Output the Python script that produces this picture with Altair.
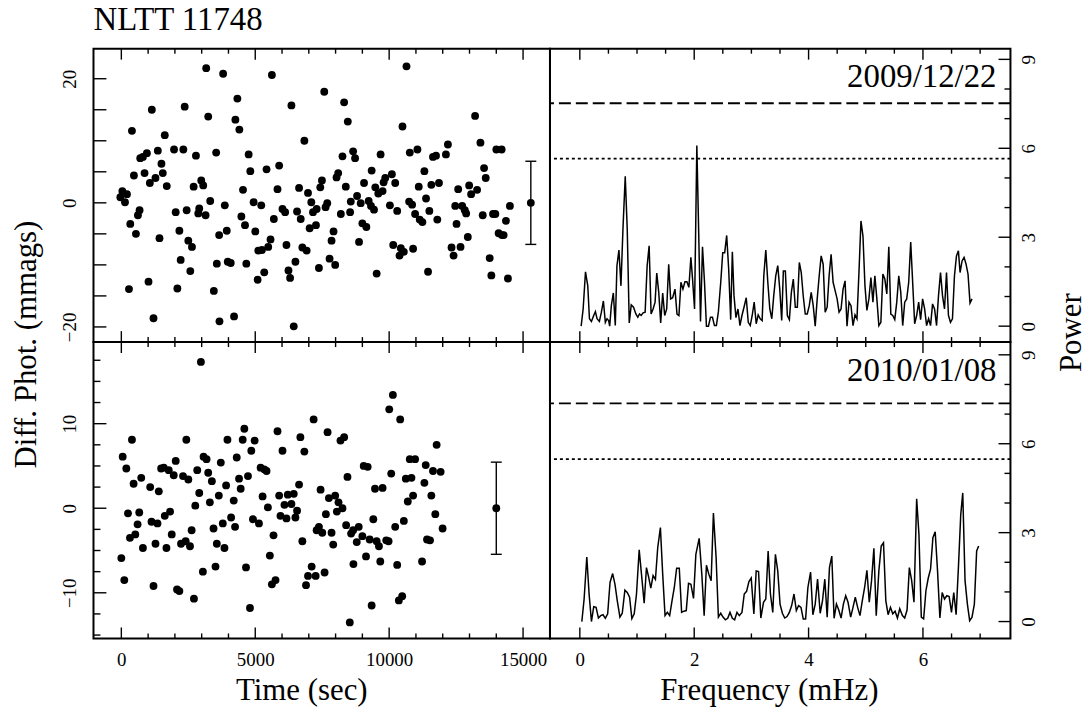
import altair as alt
import pandas as pd

FONT = "Liberation Serif"

title_text = "NLTT 11748"
date_top = "2009/12/22"
date_bot = "2010/01/08"

# ---- light curve, 2009/12/22 ----
t1 = [3169, 3801, 5621, 10647, 7577, 4333, 8319, 6351, 2365, 1139,
      3244, 4259, 4407, 8456, 10498, 13209, 396, 1622, 6834, 12194,
      13408, 1362, 1968, 2315, 2786, 3541, 4754, 8654, 8728, 8257,
      9681, 10771, 11055, 11637, 11749, 12120, 14002, 14200, 953, 706,
      805, 470, 867, 1498, 1548, 1275, 1065, 1696, 4816, 5422,
      5893, 9347, 8097, 8035, 11315, 13544, 13606, 10102, 9854, 9793,
      10226, 7490, 7428, 2984, 3058, 2699, 4543, 5831, 6636, 8381,
      9062, 9483, 9595, 9755, 11105, 11575, 11860, 12578, 12987, 13061,
      13284, 37, 210, -37, 136, 6970, 8802, 8567, 8938, 9235,
      11377, 3318, 4940, 7094, 7688, 10746, 10857, 10028, 3863, 5224,
      7626, 7292, 7156, 9322, 9434, 12467, 12727, 12826, 12875, 14509,
      681, 619, 2030, 2439, 2909, 2872, 3145, 6017, 6116, 6561,
      8542, 8196, 10300, 10969, 11142, 11241, 11501, 11798, 13494, 13878,
      13965, 14361, 4482, 4618, 5695, 6698, 334, 545, 2167, 1424,
      2501, 2637, 3652, 3937, 5002, 7032, 7267, 7923, 7849, 9000,
      9149, 8876, 12516, 12937, 14088, 14212, 14274, 5571, 5484, 5249,
      5113, 6165, 6759, 6920, 10152, 10436, 10548, 10387, 10894, 12330,
      12405, 12665, 13754, 2216, 2575, 3565, 3974, 4085, 4667, 5336,
      5088, 6240, 6301, 6500, 7378, 7775, 7985, 9533, 11452, 13816,
      14435, 285, 1015, 2092, 3454, 1201, 3664, 4209, 6438]
m1 = [21.7, 20.8, 20.6, 22.0, 17.9, 16.8, 16.2, 15.7, 15.5, 15.0,
      13.9, 13.4, 11.8, 13.1, 12.3, 14.0, 11.6, 10.9, 10.0, 9.4,
      9.7, 8.4, 8.6, 8.6, 7.6, 8.1, 7.8, 8.3, 7.2, 7.5,
      7.8, 8.1, 8.6, 7.4, 7.6, 7.8, 8.6, 8.6, 8.0, 7.2,
      7.4, 4.4, 4.8, 6.3, 4.8, 4.0, 3.2, 2.7, 5.1, 5.4,
      6.0, 5.2, 4.8, 4.1, 5.1, 5.6, 4.0, 4.6, 4.0, 3.3,
      3.2, 3.6, 2.5, 3.6, 2.8, 2.6, 2.1, 2.2, 2.4, 2.6,
      3.2, 2.5, 1.5, 1.9, 2.6, 2.9, 3.2, 2.2, 2.8, 1.4,
      2.1, 1.9, 1.4, 0.9, 0.1, 1.6, 1.1, 0.2, -0.05, 0.3,
      0.7, 0.3, 0.1, 0.1, -0.05, 0.2, -0.3, -0.4, -0.4, -0.4,
      -0.7, -1.0, -1.5, -0.5, -1.1, -0.5, -0.5, -1.2, -1.7, -0.5,
      -1.2, -2.0, -1.5, -1.2, -0.9, -1.7, -2.0, -1.0, -1.5, -1.4,
      -1.5, -1.8, -1.3, -1.8, -2.7, -3.1, -1.3, -2.7, -2.0, -1.8,
      -1.8, -2.9, -2.2, -3.6, -2.6, -2.6, -3.4, -5.0, -4.5, -5.7,
      -6.1, -7.1, -5.2, -4.5, -4.6, -4.1, -3.6, -4.6, -6.1, -3.3,
      -3.9, -6.3, -3.4, -5.5, -4.9, -5.2, -5.2, -5.9, -7.1, -7.6,
      -7.7, -6.8, -7.2, -7.7, -6.8, -7.3, -7.9, -8.5, -7.4, -7.2,
      -8.5, -7.1, -8.9, -9.2, -11.0, -9.8, -9.5, -9.7, -9.8, -11.2,
      -12.4, -10.9, -12.1, -9.5, -10.5, -9.0, -10.0, -11.4, -11.1, -11.7,
      -12.2, -13.9, -12.7, -13.8, -14.2, -18.6, -19.1, -18.3, -19.9]

# ---- light curve, 2010/01/08 ----
t2 = [2971, 10139, 10003, 10412, 7180, 4593, 5831, 7700, 8319, 8183,
      6685, 396, 2426, 3962, 4531, 4977, 11773, 4853, 6017, 6834,
      50, 186, 2030, 3070, 3182, 3714, 4308, 10771, 10969, 1486,
      1585, 1770, 1956, 2303, 2501, 2835, 3244, 3380, 4395, 4729,
      5200, 5336, 5422, 9050, 9198, 11365, 11637, 11922, 743, 458,
      1077, 1399, 3912, 4457, 6636, 7440, 8443, 9471, 9755, 10077,
      10622, 10833, 11315, 2909, 3640, 3305, 4197, 5274, 5893, 6215,
      6438, 6091, 6351, 6561, 5472, 7750, 7985, 8109, 8257, 8047,
      10696, 10894, 11575, 2761, 248, 669, 607, 322, 520, 805,
      1127, 1349, 1275, 1622, 1820, 1882, 1684, 2228, 2402, 2563,
      2625, 3442, 3565, 3788, 3850, 4098, 4246, 4915, 5138, 5942,
      6165, 6500, 5682, 6759, 7378, 7292, 7502, 7638, 7849, 7911,
      8394, 8579, 8654, 8864, 8790, 9000, 9273, 9409, 9533, 9619,
      9892, 9978, 10226, 10548, 11724, 11996, 11414, 11526, 5546, 4655,
      3516, 3045, 0, 111, 1201, 2080, 2167, 2711, 4803, 5621,
      5757, 6970, 7106, 6896, 7255, 7589, 8666, 9136, 9669, 10300,
      11229, 10486, 10362, 9347, 8530]
m2 = [17.3, 13.4, 11.7, 10.5, 10.5, 9.4, 9.1, 9.0, 8.4, 8.0,
      8.4, 8.1, 8.1, 8.1, 8.1, 8.0, 7.5, 6.8, 6.8, 6.7,
      6.1, 4.7, 5.6, 6.1, 5.8, 5.4, 6.0, 5.8, 5.8, 4.7,
      4.8, 4.5, 3.9, 3.8, 3.4, 4.5, 4.2, 3.2, 3.5, 3.8,
      4.8, 4.6, 4.4, 5.0, 4.9, 5.1, 4.4, 4.3, 3.6, 2.9,
      2.5, 2.0, 2.7, 2.3, 2.8, 2.2, 3.7, 2.3, 2.4, 4.1,
      3.5, 3.6, 3.0, 1.8, 1.5, 0.7, 0.9, 1.4, 1.5, 1.6,
      1.7, 0.4, 0.5, -0.3, 0.1, 1.2, 1.5, 0.7, 0.0, -0.4,
      0.8, 1.5, 1.5, 0.3, -0.6, -0.5, -1.9, -3.5, -3.1, -4.7,
      -1.6, -1.8, -4.2, -0.9, -0.4, -3.1, -4.7, -4.2, -3.9, -4.5,
      -2.6, -2.4, -4.2, -1.8, -4.7, -1.1, -2.2, -1.3, -1.8, -0.9,
      -1.2, -1.1, -3.2, -3.9, -2.2, -2.6, -2.9, -0.7, -2.9, -4.3,
      -2.0, -3.0, -2.6, -2.2, -4.0, -3.3, -3.7, -1.3, -3.9, -4.5,
      -3.8, -3.9, -2.2, -1.5, -0.7, -2.4, -3.7, -3.8, -5.6, -7.0,
      -6.9, -7.5, -5.9, -8.5, -9.2, -9.6, -9.8, -10.7, -11.8, -9.0,
      -8.5, -8.0, -6.9, -9.1, -8.0, -7.6, -6.6, -5.7, -6.3, -6.7,
      -6.3, -10.4, -10.9, -11.5, -13.5]

# typical error bars
err_time = [15290, 14000]
err_half = [6.7, 5.45]

# ---- periodograms ----
f1 = [0.023, 0.058, 0.099, 0.139, 0.168, 0.203, 0.243, 0.272, 0.301, 0.342,
      0.377, 0.412, 0.446, 0.475, 0.504, 0.522, 0.551, 0.586, 0.620, 0.649,
      0.684, 0.719, 0.754, 0.794, 0.829, 0.864, 0.899, 0.939, 0.980, 1.014,
      1.043, 1.072, 1.107, 1.142, 1.177, 1.212, 1.246, 1.281, 1.316, 1.345,
      1.380, 1.414, 1.449, 1.484, 1.519, 1.554, 1.588, 1.623, 1.664, 1.699,
      1.733, 1.768, 1.803, 1.838, 1.872, 1.907, 1.942, 1.971, 2.006, 2.046,
      2.081, 2.110, 2.145, 2.180, 2.214, 2.249, 2.284, 2.319, 2.354, 2.388,
      2.423, 2.464, 2.499, 2.533, 2.568, 2.603, 2.638, 2.667, 2.696, 2.730,
      2.765, 2.800, 2.835, 2.875, 2.910, 2.945, 2.980, 3.014, 3.049, 3.084,
      3.119, 3.154, 3.188, 3.217, 3.252, 3.287, 3.322, 3.357, 3.391, 3.426,
      3.461, 3.496, 3.530, 3.559, 3.594, 3.629, 3.664, 3.699, 3.733, 3.768,
      3.803, 3.838, 3.872, 3.907, 3.942, 3.977, 4.012, 4.046, 4.081, 4.116,
      4.151, 4.186, 4.220, 4.255, 4.290, 4.325, 4.359, 4.394, 4.429, 4.464,
      4.499, 4.533, 4.568, 4.603, 4.638, 4.672, 4.707, 4.742, 4.777, 4.812,
      4.846, 4.881, 4.916, 4.951, 4.986, 5.020, 5.055, 5.090, 5.125, 5.159,
      5.194, 5.229, 5.264, 5.299, 5.333, 5.368, 5.403, 5.438, 5.472, 5.507,
      5.542, 5.577, 5.612, 5.646, 5.681, 5.716, 5.751, 5.786, 5.820, 5.855,
      5.890, 5.925, 5.959, 5.994, 6.029, 6.064, 6.099, 6.133, 6.168, 6.203,
      6.238, 6.272, 6.307, 6.342, 6.377, 6.412, 6.446, 6.481, 6.516, 6.551,
      6.586, 6.620, 6.649, 6.684, 6.719, 6.754, 6.788, 6.823, 6.858]
p1 = [0.0, 0.58, 1.83, 1.36, 0.25, 0.16, 0.36, 0.49, 0.25, 0.16,
      0.47, 0.85, 0.13, 0.25, 0.19, 0.0, 0.69, 1.12, 0.02, 2.04,
      2.57, 1.36, 3.27, 5.06, 3.27, 0.11, 0.72, 0.64, 0.41, 0.30,
      0.41, 0.36, 0.45, 0.47, 2.04, 2.71, 0.41, 0.58, 0.81, 1.79,
      1.14, 0.11, 1.12, 0.36, 0.58, 2.09, 0.92, 0.96, 1.25, 0.41,
      0.36, 1.48, 1.25, 1.50, 1.50, 1.31, 2.32, 1.59, 0.58, 6.09,
      2.93, 0.16, 2.68, 1.48, 0.0, 0.0, 0.30, 0.30, 0.02, 0.02,
      0.49, 1.48, 2.48, 2.48, 3.06, 1.92, 0.22, 2.51, 1.03, 0.29,
      0.58, 0.02, 0.36, 0.67, 0.96, 0.13, 0.02, 0.36, 0.81, 0.08,
      0.38, 0.25, 0.19, 1.70, 2.57, 1.48, 0.58, 0.25, 1.03, 1.70,
      2.04, 1.25, 0.19, 1.86, 1.86, 0.36, 0.22, 1.14, 1.59, 0.64,
      0.64, 2.15, 1.81, 1.01, 0.41, 0.41, 0.69, 1.14, 0.69, 0.0,
      0.92, 1.70, 2.37, 2.09, 0.47, 0.64, 1.70, 2.42, 1.48, 1.20,
      0.92, 0.47, 0.58, 1.25, 1.53, 0.0, 0.81, 0.69, 0.02, 0.38,
      0.25, 1.81, 3.55, 3.04, 1.36, 0.53, 0.92, 1.64, 0.81, 1.70,
      0.92, 0.02, 0.13, 1.76, 1.59, 1.09, 2.68, 0.41, 0.36, 0.22,
      0.81, 1.70, 1.14, 0.02, 0.81, 0.92, 1.48, 2.84, 1.48, 0.08,
      0.36, 0.81, 0.22, 0.92, 0.58, 0.02, 0.25, 0.02, 0.75, 0.58,
      0.02, 1.03, 1.81, 1.03, 0.58, 1.81, 0.36, 0.13, 0.25, 1.70,
      2.37, 2.54, 1.81, 2.20, 2.32, 2.09, 1.76, 0.78, 0.92]
f2 = [0.035, 0.075, 0.122, 0.162, 0.203, 0.243, 0.284, 0.325, 0.365, 0.406,
      0.446, 0.487, 0.528, 0.574, 0.614, 0.655, 0.701, 0.742, 0.788, 0.829,
      0.870, 0.910, 0.951, 0.991, 1.038, 1.078, 1.125, 1.165, 1.200, 1.241,
      1.281, 1.322, 1.362, 1.409, 1.449, 1.490, 1.530, 1.571, 1.612, 1.652,
      1.693, 1.739, 1.780, 1.820, 1.861, 1.901, 1.942, 1.988, 2.029, 2.087,
      2.133, 2.174, 2.214, 2.255, 2.296, 2.336, 2.383, 2.423, 2.464, 2.504,
      2.545, 2.586, 2.626, 2.667, 2.707, 2.748, 2.788, 2.835, 2.875, 2.916,
      2.957, 2.997, 3.043, 3.084, 3.125, 3.165, 3.212, 3.252, 3.293, 3.333,
      3.374, 3.420, 3.461, 3.501, 3.542, 3.583, 3.623, 3.664, 3.704, 3.745,
      3.786, 3.826, 3.867, 3.907, 3.948, 3.988, 4.035, 4.075, 4.116, 4.157,
      4.203, 4.243, 4.284, 4.325, 4.365, 4.406, 4.446, 4.487, 4.528, 4.568,
      4.609, 4.649, 4.690, 4.736, 4.777, 4.817, 4.858, 4.899, 4.939, 4.980,
      5.020, 5.061, 5.101, 5.142, 5.183, 5.229, 5.270, 5.310, 5.351, 5.391,
      5.432, 5.472, 5.513, 5.554, 5.594, 5.641, 5.681, 5.722, 5.762, 5.803,
      5.843, 5.890, 5.930, 5.971, 6.012, 6.052, 6.093, 6.133, 6.174, 6.214,
      6.255, 6.296, 6.336, 6.377, 6.417, 6.458, 6.499, 6.539, 6.580, 6.620,
      6.661, 6.696, 6.736, 6.777, 6.817, 6.858, 6.899, 6.939, 6.974]
p2 = [0.0, 0.76, 2.18, 0.93, 0.0, 0.50, 0.48, 0.12, 0.20, 0.23,
      0.11, 0.26, 1.32, 1.62, 1.26, 0.70, 0.15, 0.28, 1.06, 0.98,
      0.82, 0.10, 0.26, 0.93, 2.42, 1.60, 0.62, 1.82, 1.53, 1.13,
      1.55, 1.42, 2.49, 3.17, 1.60, 0.20, 0.31, 0.20, 0.70, 1.15,
      1.80, 1.80, 0.31, 0.35, 0.37, 1.29, 1.26, 0.78, 2.27, 2.81,
      1.60, 0.20, 1.90, 1.60, 1.38, 3.66, 2.16, 0.15, 0.28, 0.15,
      0.06, 0.11, 0.31, 0.11, 0.06, 0.31, 0.20, 0.31, 0.93, 1.02,
      1.35, 1.47, 0.26, 1.71, 1.69, 0.12, 0.65, 0.76, 2.38, 0.93,
      0.31, 2.27, 1.71, 0.59, 0.28, 0.12, 0.17, 0.31, 0.54, 0.93,
      0.37, 0.54, 0.48, 0.09, 0.09, 1.15, 1.67, 0.23, 0.59, 1.43,
      0.28, 0.70, 1.43, 0.15, 1.82, 2.21, 0.11, 0.59, 0.39, 0.12,
      0.59, 0.87, 0.65, 0.15, 0.48, 0.82, 0.48, 0.20, 0.70, 1.15,
      1.73, 0.65, 1.38, 2.47, 0.20, 1.71, 2.55, 2.66, 0.70, 0.23,
      0.48, 0.26, 0.35, 0.12, 0.43, 0.20, 0.12, 0.39, 1.82, 1.38,
      0.65, 4.14, 2.94, 0.15, 0.09, 1.04, 1.47, 1.77, 2.83, 3.03,
      1.71, 0.12, 0.98, 0.76, 0.87, 0.84, 0.31, 0.98, 0.23, 1.82,
      3.61, 4.34, 1.38, 0.59, 0.03, 0.15, 0.59, 2.38, 2.55]

# significance thresholds (dashed, dotted)
thr_dashed = [7.52, 7.36]
thr_dotted = [5.65, 5.48]

# tick values
time_major = [0, 5000, 10000, 15000]
time_minor = [1000, 2000, 3000, 4000, 6000, 7000, 8000, 9000, 11000, 12000, 13000, 14000]
freq_major = [0, 2, 4, 6]
freq_minor = [0.5, 1, 1.5, 2.5, 3, 3.5, 4.5, 5, 5.5, 6.5, 7]
mag_top_ticks = [-20, -15, -10, -5, 0, 5, 10, 15, 20]
mag_top_labels = [-20, 0, 20]
mag_bot_major = [-10, 0, 10]
mag_bot_minor = [-15, -12.5, -7.5, -5, -2.5, 2.5, 5, 7.5, 12.5, 15, 17.5]
pow_major = [0, 3, 6, 9]
pow_minor = [1, 2, 4, 5, 7, 8]

# ---- layout ----
WL, WR = 459, 463
HT, HB = 295, 298

dom_time = [-1040, 16005]
dom_freq = [-0.522, 7.530]
dom_mag_top = [-22.44, 24.84]
dom_mag_bot = [-15.4, 19.65]
dom_pow_top = [-0.537, 9.36]
dom_pow_bot = [-0.57, 9.43]


def S(dom):
    return alt.Scale(domain=dom, nice=False, zero=False)


def X(field, dom, axis):
    return alt.X(field, scale=S(dom), axis=axis)


def Y(field, dom, axis):
    return alt.Y(field, scale=S(dom), axis=axis)


def segments(xdom, ydom, W, H, xticks, yticks, yside, err=None):
    """Vertical and horizontal line segments: frame ticks (pixel lengths) and error bar."""
    py = (ydom[1] - ydom[0]) / H
    px = (xdom[1] - xdom[0]) / W
    vx, vy1, vy2 = [], [], []
    for vals, L in xticks:
        for val in vals:
            vx += [val, val]
            vy1 += [ydom[1], ydom[0]]
            vy2 += [ydom[1] - L * py, ydom[0] + L * py]
    hy, hx1, hx2 = [], [], []
    for vals, L in yticks:
        for val in vals:
            hy.append(val)
            if yside == "left":
                hx1.append(xdom[0]); hx2.append(xdom[0] + L * px)
            else:
                hx1.append(xdom[1]); hx2.append(xdom[1] - L * px)
    if err is not None:
        t, h = err
        vx.append(t); vy1.append(-h); vy2.append(h)
        for yy in (-h, h):
            hy.append(yy); hx1.append(t - 5.5 * px); hx2.append(t + 5.5 * px)
    vdf = pd.DataFrame({"sx": vx, "sy1": vy1, "sy2": vy2})
    hdf = pd.DataFrame({"hy": hy, "hx1": hx1, "hx2": hx2})
    return vdf, hdf


def seg_layers(vdf, hdf, xdom, ydom, xaxis, yaxis):
    v = alt.Chart(vdf).mark_rule(color="black", strokeWidth=1.4).encode(
        x=X("sx:Q", xdom, xaxis), y=Y("sy1:Q", ydom, yaxis), y2="sy2:Q")
    h = alt.Chart(hdf).mark_rule(color="black", strokeWidth=1.4).encode(
        y=Y("hy:Q", ydom, yaxis), x=X("hx1:Q", xdom, xaxis), x2="hx2:Q")
    return [v, h]


def threshold_layer(i, ydom, yaxis):
    d = pd.DataFrame({"y": [thr_dashed[i], thr_dotted[i]], "k": ["dashed", "dotted"]})
    return alt.Chart(d).mark_rule(color="black", strokeWidth=1.8).encode(
        y=Y("y:Q", ydom, yaxis),
        strokeDash=alt.StrokeDash("k:N", scale=alt.Scale(domain=["dashed", "dotted"],
                                                          range=[[12, 5], [3, 3]]), legend=None))


def date_label(text, W):
    return alt.Chart(pd.DataFrame({"s": [text]})).mark_text(
        align="right", baseline="alphabetic", font=FONT, fontSize=33, color="black"
    ).encode(x=alt.value(W - 14), y=alt.value(39), text="s:N")


# ---------- top-left ----------
tl_ax_y = alt.Axis(values=mag_top_labels, format="d", labelAngle=270, labelAlign="center",
                   labelBaseline="middle", labelPadding=24,
                   title="Diff. Phot. (mmags)", titleX=-67, titleY=297, titleAngle=270,
                   titleAlign="center", titleBaseline="middle")
tl_ax_x = None
tl_pts = alt.Chart(pd.DataFrame({"t": t1, "m": m1})).mark_circle(size=62, color="black", opacity=1).encode(
    x=X("t:Q", dom_time, tl_ax_x), y=Y("m:Q", dom_mag_top, tl_ax_y))
tl_err = alt.Chart(pd.DataFrame({"t": [err_time[0]], "c": [0.0]})).mark_circle(
    size=62, color="black", opacity=1).encode(x=X("t:Q", dom_time, tl_ax_x), y=Y("c:Q", dom_mag_top, tl_ax_y))
tl_v, tl_h = segments(dom_time, dom_mag_top, WL, HT,
                      [(time_major, 11), (time_minor, 5)], [(mag_top_ticks, 13)], "left",
                      err=(err_time[0], err_half[0]))
TL = alt.layer(tl_pts, tl_err, *seg_layers(tl_v, tl_h, dom_time, dom_mag_top, tl_ax_x, tl_ax_y)
               ).properties(width=WL, height=HT)

# ---------- bottom-left ----------
bl_ax_y = alt.Axis(values=mag_bot_major, format="d", labelAngle=270, labelAlign="center",
                   labelBaseline="middle", labelPadding=24, title=None)
bl_ax_x = alt.Axis(values=time_major, format="d", labelPadding=12, labelFlush=False,
                   title="Time (sec)", titleX=209, titleY=52, titleAlign="center", titleBaseline="middle")
bl_pts = alt.Chart(pd.DataFrame({"t": t2, "m": m2})).mark_circle(size=62, color="black", opacity=1).encode(
    x=X("t:Q", dom_time, bl_ax_x), y=Y("m:Q", dom_mag_bot, bl_ax_y))
bl_err = alt.Chart(pd.DataFrame({"t": [err_time[1]], "c": [0.0]})).mark_circle(
    size=62, color="black", opacity=1).encode(x=X("t:Q", dom_time, bl_ax_x), y=Y("c:Q", dom_mag_bot, bl_ax_y))
bl_v, bl_h = segments(dom_time, dom_mag_bot, WL, HB,
                      [(time_major, 11), (time_minor, 5)], [(mag_bot_major, 13), (mag_bot_minor, 7)], "left",
                      err=(err_time[1], err_half[1]))
BL = alt.layer(bl_pts, bl_err, *seg_layers(bl_v, bl_h, dom_time, dom_mag_bot, bl_ax_x, bl_ax_y)
               ).properties(width=WL, height=HB)

# ---------- top-right ----------
tr_ax_y = alt.Axis(orient="right", values=pow_major, format="d", labelAngle=270, labelAlign="center",
                   labelBaseline="middle", labelPadding=18,
                   title="Power", titleX=61, titleY=285, titleAngle=270,
                   titleAlign="center", titleBaseline="middle")
tr_ax_x = None
tr_line = alt.Chart(pd.DataFrame({"f": f1, "p": p1})).mark_line(color="black", strokeWidth=1.5).encode(
    x=X("f:Q", dom_freq, tr_ax_x), y=Y("p:Q", dom_pow_top, tr_ax_y))
tr_v, tr_h = segments(dom_freq, dom_pow_top, WR, HT,
                      [(freq_major, 11), (freq_minor, 5)], [(pow_major, 12), (pow_minor, 6)], "right")
TR = alt.layer(tr_line, threshold_layer(0, dom_pow_top, tr_ax_y), date_label(date_top, WR),
               *seg_layers(tr_v, tr_h, dom_freq, dom_pow_top, tr_ax_x, tr_ax_y)
               ).properties(width=WR, height=HT)

# ---------- bottom-right ----------
br_ax_y = alt.Axis(orient="right", values=pow_major, format="d", labelAngle=270, labelAlign="center",
                   labelBaseline="middle", labelPadding=18, title=None)
br_ax_x = alt.Axis(values=freq_major, format="d", labelPadding=12, labelFlush=False,
                   title="Frequency (mHz)", titleX=220, titleY=52, titleAlign="center", titleBaseline="middle")
br_line = alt.Chart(pd.DataFrame({"f": f2, "p": p2})).mark_line(color="black", strokeWidth=1.5).encode(
    x=X("f:Q", dom_freq, br_ax_x), y=Y("p:Q", dom_pow_bot, br_ax_y))
br_v, br_h = segments(dom_freq, dom_pow_bot, WR, HB,
                      [(freq_major, 11), (freq_minor, 5)], [(pow_major, 12), (pow_minor, 6)], "right")
BR = alt.layer(br_line, threshold_layer(1, dom_pow_bot, br_ax_y), date_label(date_bot, WR),
               *seg_layers(br_v, br_h, dom_freq, dom_pow_bot, br_ax_x, br_ax_y)
               ).properties(width=WR, height=HB)

chart = alt.concat(TL, TR, BL, BR, columns=2, spacing=0, bounds="flush", align="each").properties(
    title=alt.TitleParams(title_text, anchor="start", frame="group", font=FONT, fontSize=33,
                          fontWeight="normal", color="black", offset=10),
    padding={"left": 10, "top": 2, "right": 5, "bottom": 5},
).configure_view(
    stroke="black", strokeWidth=2
).configure_axis(
    grid=False, domain=False, ticks=False,
    labelFont=FONT, labelFontSize=19, labelColor="black",
    titleFont=FONT, titleFontSize=31, titleFontWeight="normal", titleColor="black",
)

chart.save("out.html", embed_options={"renderer": "svg", "actions": False})
